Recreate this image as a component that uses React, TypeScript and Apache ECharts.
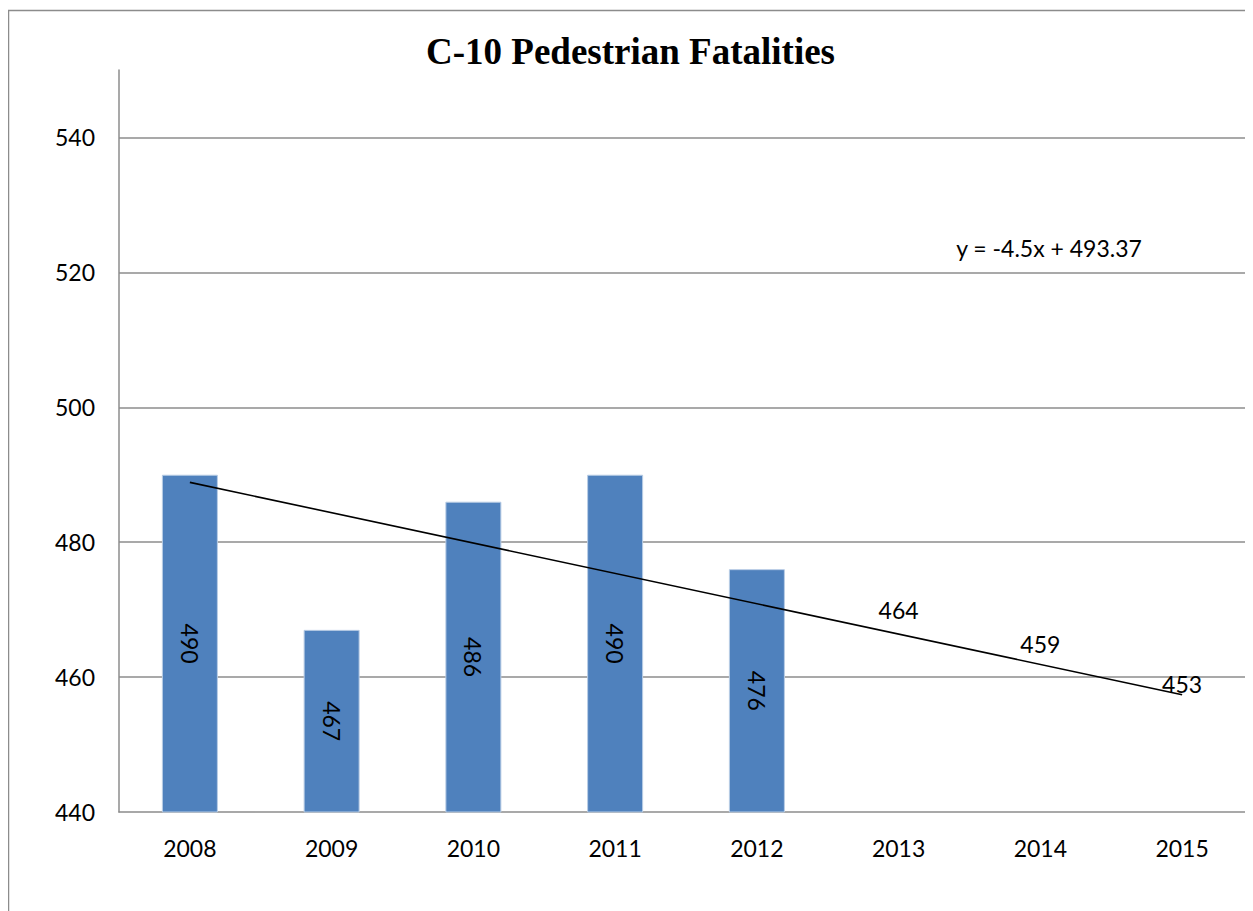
import React, { useEffect, useRef } from "react";
import * as echarts from "echarts";

const categories = ["2008", "2009", "2010", "2011", "2012", "2013", "2014", "2015"];
const actualValues = [490, 467, 486, 490, 476, null, null, null];
const forecastValues = [null, null, null, null, null, 464, 459, 453];
const trendStart = 488.87;
const trendEnd = 457.37;
const yTicks = { min: 440, max: 550, interval: 20 };
const titleText = "C-10 Pedestrian Fatalities";
const equationText = "y = -4.5x + 493.37";

const FONT = "Lato, 'Open Sans', sans-serif";

export default function App() {
  const ref = useRef<HTMLDivElement>(null);
  useEffect(() => {
    if (!ref.current) return;
    const chart = echarts.init(ref.current, null, { renderer: "svg" });
    chart.setOption({
      animation: false,
      backgroundColor: "#ffffff",
      title: {
        text: titleText,
        left: "center",
        top: 20,
        textStyle: {
          fontFamily: "'Liberation Serif', 'Times New Roman', serif",
          fontWeight: "bold",
          fontSize: 37,
          color: "#000",
        },
      },
      grid: { left: 111, top: 62, right: -4, bottom: 99, containLabel: false },
      xAxis: {
        type: "category",
        data: categories,
        axisLine: { show: true, lineStyle: { color: "#8c8c8c", width: 1.5 } },
        axisTick: { show: false },
        axisLabel: { color: "#000", fontFamily: FONT, fontSize: 23, margin: 24 },
      },
      yAxis: {
        type: "value",
        min: yTicks.min,
        max: yTicks.max,
        interval: yTicks.interval,
        axisLine: { show: true, lineStyle: { color: "#8c8c8c", width: 1.5 } },
        axisTick: { show: false },
        axisLabel: {
          color: "#000",
          fontFamily: FONT,
          fontSize: 23,
          margin: 24,
          showMaxLabel: false,
          formatter: (v: number) => (v === yTicks.max ? "" : String(v)),
        },
        splitLine: {
          show: true,
          showMinLine: false,
          showMaxLine: false,
          lineStyle: { color: "#8c8c8c", width: 1.5 },
        },
      },
      series: [
        {
          type: "bar",
          data: actualValues,
          barWidth: 56,
          itemStyle: { color: "#4F81BD", borderColor: "#b9cde5", borderWidth: 1 },
          label: {
            show: true,
            position: "inside",
            rotate: -90,
            color: "#000",
            fontFamily: FONT,
            fontSize: 23,
          },
          z: 2,
        },
        {
          type: "line",
          data: [
            [categories[0], trendStart],
            [categories[categories.length - 1], trendEnd],
          ],
          symbol: "none",
          lineStyle: { color: "#000", width: 1.6 },
          z: 3,
        },
        {
          type: "scatter",
          data: forecastValues,
          symbolSize: 0,
          itemStyle: { color: "#000", opacity: 1 },
          label: {
            show: true,
            position: "inside",
            offset: [0, -40],
            color: "#000",
            opacity: 1,
            fontFamily: FONT,
            fontSize: 23,
          },
          z: 4,
        },
      ],
      graphic: [
        {
          type: "rect",
          shape: { x: 0.5, y: 2.5, width: 1400, height: 1200 },
          style: { fill: "none", stroke: "#8c8c8c", lineWidth: 1.5 },
          silent: true,
          z: -10,
        },
        {
          type: "text",
          x: 1041,
          y: 240,
          style: {
            text: equationText,
            fill: "#000",
            font: `23px ${FONT}`,
            textAlign: "center",
            textVerticalAlign: "middle",
          },
        },
      ],
    });
    return () => chart.dispose();
  }, []);
  return <div ref={ref} style={{ width: 1245, height: 903 }} />;
}
